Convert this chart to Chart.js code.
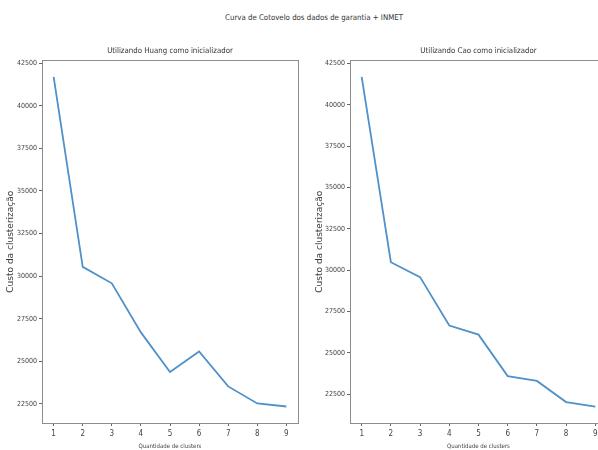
<!DOCTYPE html>
<html>
<head>
<meta charset="utf-8">
<script src="https://cdn.jsdelivr.net/npm/chart.js@4.4.1/dist/chart.umd.min.js"></script>
<style>
  html, body { margin: 0; padding: 0; background: #fff; overflow: hidden; width: 598px; height: 450px; }
  #suptitle { position: absolute; left: 0; top: 13px; width: 628px; text-align: center;
    font: 7.8px "Liberation Sans Narrow", "DejaVu Sans Condensed", sans-serif; color: #333; }
  #left { position: absolute; left: 0; top: 0; }
  #right { position: absolute; left: 300px; top: 0; }
</style>
</head>
<body>
<div id="suptitle">Curva de Cotovelo dos dados de garantia + INMET</div>
<canvas id="left" width="300" height="450"></canvas>
<canvas id="right" width="310" height="450"></canvas>
<script>
// data
const clusters = [1, 2, 3, 4, 5, 6, 7, 8, 9];
const huangCost = [41700, 30550, 29580, 26700, 24380, 25580, 23530, 22530, 22350];
const caoCost = [41700, 30480, 29580, 26650, 26100, 23590, 23300, 22020, 21750];
const yTicks = [22500, 25000, 27500, 30000, 32500, 35000, 37500, 40000, 42500];

const narrow = '"Liberation Sans Narrow", "DejaVu Sans Condensed", sans-serif';

// matplotlib-style box round the plot area
const frame = {
    id: 'frame',
    beforeDatasetsDraw(chart) {
        const { ctx, chartArea: a } = chart;
        ctx.save();
        ctx.strokeStyle = '#8c8c8c';
        ctx.lineWidth = 1;
        ctx.strokeRect(Math.round(a.left) + 0.5, Math.round(a.top) + 0.5,
            Math.round(a.right - a.left), Math.round(a.bottom - a.top));
        ctx.restore();
    }
};

const makeChart = (id, title, values, yWidth, yTitlePad, padRight) => {
    const lo = Math.min(...values), hi = Math.max(...values);
    const m = (hi - lo) * 0.05;
    return new Chart(document.getElementById(id), {
        type: 'line',
        data: {
            datasets: [{
                data: clusters.map((c, i) => ({ x: c, y: values[i] })),
                borderColor: '#5091c9',
                borderWidth: 1.8,
                pointRadius: 0,
                tension: 0,
                fill: false
            }]
        },
        options: {
            responsive: false,
            animation: false,
            devicePixelRatio: 1,
            layout: { padding: { left: 0, right: padRight, top: 0, bottom: 0 } },
            plugins: {
                legend: { display: false },
                tooltip: { enabled: false },
                title: {
                    display: true,
                    text: title,
                    fullSize: false,
                    color: '#333',
                    font: { family: narrow, size: 7.8, weight: 'normal' },
                    padding: { top: 46, bottom: 5 }
                }
            },
            scales: {
                x: {
                    type: 'linear',
                    min: 0.6,
                    max: 9.4,
                    afterBuildTicks: axis => { axis.ticks = clusters.map(v => ({ value: v })); },
                    afterFit: scale => { scale.height = 27; },
                    grid: { drawOnChartArea: false, tickLength: 3, color: '#666' },
                    border: { display: true, color: '#8c8c8c' },
                    ticks: { color: '#444', font: { family: narrow, size: 8 }, padding: 3, callback: v => String(v) },
                    title: {
                        display: true,
                        text: 'Quantidade de clusters',
                        color: '#444',
                        font: { family: narrow, size: 6 },
                        padding: { top: 0, bottom: 0 }
                    }
                },
                y: {
                    min: lo - m,
                    max: hi + m,
                    afterBuildTicks: axis => { axis.ticks = yTicks.map(v => ({ value: v })); },
                    afterFit: scale => { scale.width = yWidth; },
                    grid: { drawOnChartArea: false, tickLength: 3, color: '#666' },
                    border: { display: true, color: '#8c8c8c' },
                    ticks: { color: '#444', font: { family: narrow, size: 7 }, padding: 2, callback: v => String(v) },
                    title: {
                        display: true,
                        text: 'Custo da clusterização',
                        color: '#3a3a3a',
                        font: { family: '"DejaVu Sans", sans-serif', size: 9 },
                        padding: { top: yTitlePad, bottom: 0 }
                    }
                }
            }
        },
        plugins: [frame]
    });
};

makeChart('left', 'Utilizando Huang como inicializador', huangCost, 42, 5, 2);
makeChart('right', 'Utilizando Cao como inicializador', caoCost, 50, 14, 3);
</script>
</body>
</html>
